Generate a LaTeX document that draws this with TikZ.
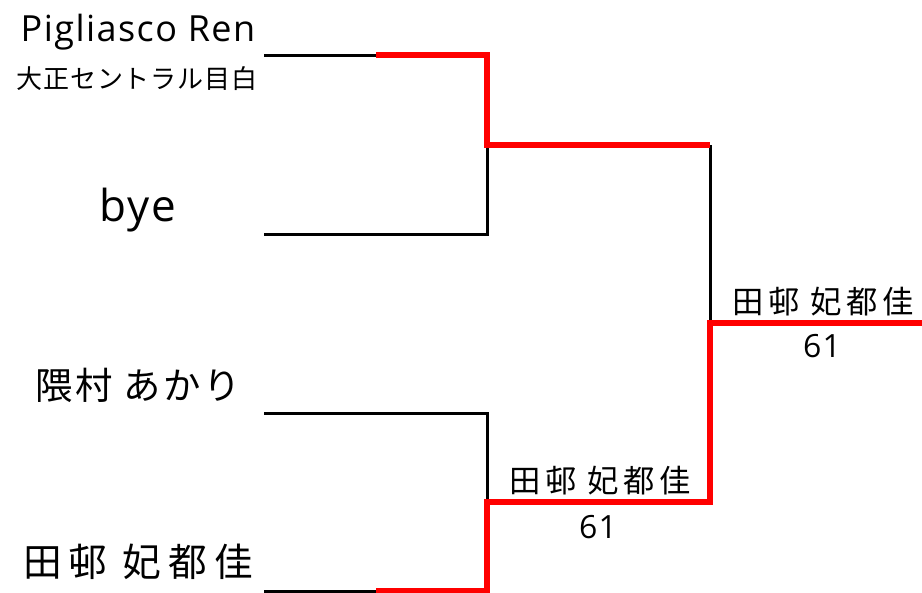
\documentclass[tikz,border=0pt]{standalone}
\usepackage{fontspec}
\setmainfont{Noto Sans CJK JP}
\newfontfamily\latfont[LetterSpace=4]{Open Sans}
\newfontfamily\cjkclub[LetterSpace=3]{Noto Sans CJK JP}
\newfontfamily\cjkname[LetterSpace=7]{Noto Sans CJK JP}
\newfontfamily\cjkwide[LetterSpace=18]{Noto Sans CJK JP}
\newfontfamily\cjkres[LetterSpace=14]{Noto Sans CJK JP}
\begin{document}
\begin{tikzpicture}[x=0.75pt,y=-0.75pt,
  win/.style={red, line width=4pt, line join=miter},
  lose/.style={black, line width=2.25pt, line join=miter},
  lbl/.style={anchor=base, inner sep=0pt, outer sep=0pt},
  res/.style={lbl, font=\cjkres\fontsize{23.5pt}{23.5pt}\selectfont},
  score/.style={lbl, font=\latfont\fontsize{24pt}{24pt}\selectfont}]
\useasboundingbox (0,0) rectangle (922,593);
% names
\node[lbl, font=\latfont\fontsize{27pt}{27pt}\selectfont] (p1) at (138,41) {Pigliasco Ren};
\node[lbl, font=\cjkclub\fontsize{19.5pt}{19.5pt}\selectfont] (p1club) at (137,88) {大正セントラル目白};
\node[lbl, font=\latfont\fontsize{33pt}{33pt}\selectfont] (p2) at (138,221) {bye};
\node[lbl, font=\cjkname\fontsize{28pt}{28pt}\selectfont] (p3) at (138,399) {隈村 あかり};
\node[lbl, font=\cjkwide\fontsize{29pt}{29pt}\selectfont] (p4) at (138,576) {田邨 妃都佳};
% bracket points
\coordinate (a0) at (264,55);  \coordinate (am) at (376,55);  \coordinate (a1) at (487,55);
\coordinate (b0) at (264,234); \coordinate (b1) at (487,234);
\coordinate (c0) at (264,413); \coordinate (c1) at (487,413);
\coordinate (d0) at (264,591); \coordinate (dm) at (376,591); \coordinate (d1) at (487,591);
\coordinate (s1) at (487,145); \coordinate (s2) at (487,502);
\coordinate (f1) at (710,145); \coordinate (f2) at (710,502);
\coordinate (fm) at (710,323); \coordinate (w) at (922,323);
% losing paths
\draw[lose] (a0) -- (am);
\draw[lose] (b0) -- (b1) -- (s1);
\draw[lose] (c0) -- (c1) -- (s2);
\draw[lose] (d0) -- (dm);
\draw[lose] (f1) -- (fm);
% winning paths
\draw[win] (am) -- (a1) -- (s1) -- (f1);
\draw[win] (dm) -- (d1) -- (s2) -- (f2) -- (fm) -- (w);
% results
\node[res] (r1) at (600,492) {田邨 妃都佳};
\node[score] (r1s) at (598,538) {61};
\node[res] (r2) at (823,313) {田邨 妃都佳};
\node[score] (r2s) at (822,357) {61};
\end{tikzpicture}
\end{document}
